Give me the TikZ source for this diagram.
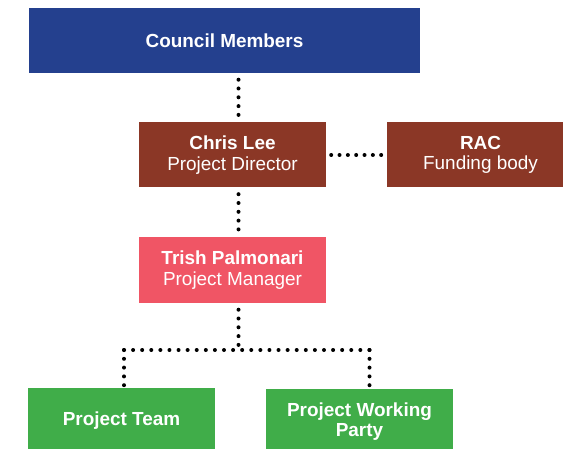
\documentclass[tikz,border=0pt]{standalone}
\usepackage{fontspec}
\setmainfont{Liberation Sans}
\usepackage{tikz}
\definecolor{council}{HTML}{24408E}
\definecolor{rust}{HTML}{8B3726}
\definecolor{rose}{HTML}{F05565}
\definecolor{leaf}{HTML}{40AD49}
\tikzset{dts/.style={dash pattern=on 0bp off #1,line cap=round,line width=4bp},
  dts/.default=8.8bp}

\begin{document}
\begin{tikzpicture}[x=1bp,y=-1bp,
  box/.style={draw=none,text=white,align=center,inner sep=0pt,
    font=\fontsize{19}{20.5}\selectfont,minimum height=65bp,minimum width=187bp}]
\useasboundingbox (0,0) rectangle (563,449);
\coordinate (spine) at (238.5,0);
\coordinate (fork) at (238.5,350);
\coordinate (teamtap) at (124,350);
\coordinate (partytap) at (369.5,350);
%boxes
\node[box,fill=council,minimum width=391bp] (council) at (224.5,40.5) {\textbf{Council Members}};
\node[box,fill=rust] (director) at (232.5,155) {\textbf{Chris Lee}\\Project Director};
\node[box,fill=rust] (rac) at (480.5,155) {\textbf{RAC}\\Funding body};
\node[box,fill=rose] (manager) at (232.5,270) {\textbf{Trish Palmonari}\\Project Manager};
\node[box,fill=leaf] (team) at (121.5,420.5) {\textbf{Project Team}};
\node[box,fill=leaf] (party) at (359.5,421.5) {\textbf{Project Working}\\\textbf{Party}};
%dotted links (yshift is upward on the page)
\draw[dts] ([yshift=-6.5bp]council.south -| spine) -- ([yshift=5.5bp]director.north -| spine);
\draw[dts=8.33bp] ([xshift=5bp]director.east) -- ([xshift=-5bp]rac.west);
\draw[dts] ([yshift=-6.5bp]director.south -| spine) -- ([yshift=5.5bp]manager.north -| spine);
\draw[dts] ([yshift=-7bp]manager.south -| spine) -- (fork);
\draw[dts=9.09bp] (teamtap) -- (partytap);
\draw[dts] (teamtap) -- ([yshift=2bp]teamtap |- team.north);
\draw[dts] (partytap) -- ([yshift=2bp]partytap |- party.north);
\end{tikzpicture}
\end{document}
